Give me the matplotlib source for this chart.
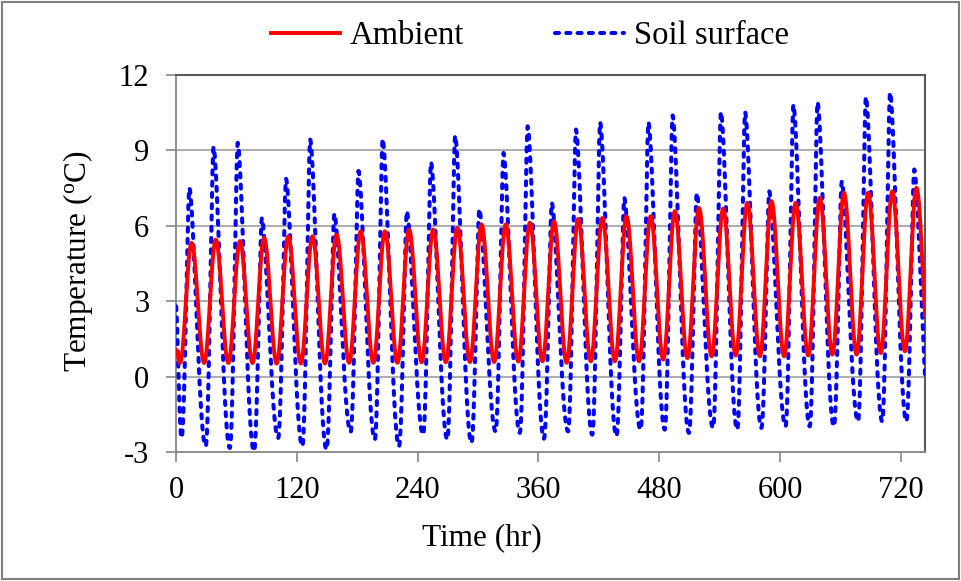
import numpy as np
import matplotlib
matplotlib.use("Agg")
import matplotlib.pyplot as plt
from matplotlib.lines import Line2D
from matplotlib.patches import Rectangle

# ---------------- data ----------------
n_days = 31
# Ambient: daily minimum (around hour 4) and maximum (around hour 15.5)
amb_trough_hr = 4.0
amb_peak_hr = 15.5
amb_start = 1.07
amb_trough = [0.54, 0.54, 0.54, 0.54, 0.52, 0.52, 0.52,
              0.55, 0.55, 0.55, 0.57, 0.57, 0.58, 0.58, 0.60,
              0.61, 0.55, 0.61, 0.61, 0.61, 0.68, 0.74, 0.81,
              0.84, 0.81, 0.81, 0.84, 0.88, 0.88, 0.94, 1.01, 1.00]
amb_peak = [5.32, 5.45, 5.39, 5.52, 5.58, 5.58, 5.65, 5.78, 5.78, 5.85,
            5.85, 5.92, 6.05, 6.05, 6.12, 6.18, 6.27, 6.31, 6.38, 6.38,
            6.58, 6.71, 6.68, 6.91, 6.98, 6.91, 7.11, 7.31, 7.31, 7.37, 7.51]

# Soil surface: daily minimum (around hour 5.5) and maximum (around hour 13.3)
soil_trough_hr = 5.5
soil_peak_hr = 13.3
soil_start = 2.8
soil_trough = [-2.44, -2.77, -2.84, -2.97, -2.44, -2.77, -2.90, -2.20,
               -2.50, -2.77, -2.31, -2.50, -2.64, -2.18, -2.24, -2.47,
               -2.18, -2.31, -2.37, -2.11, -2.11, -2.24, -2.04, -2.11,
               -2.04, -1.98, -1.98, -1.98, -1.78, -1.78, -1.78, -2.00]
soil_peak = [7.51, 9.14, 9.30, 6.31, 7.87, 9.43, 6.49, 8.17, 9.46, 6.58,
             8.53, 9.59, 6.67, 8.90, 9.96, 6.91, 9.83, 10.12, 7.11, 10.12,
             10.39, 7.31, 10.53, 10.52, 7.37, 10.82, 10.92, 7.77, 11.13,
             11.31, 8.24]

x_ticks = [0, 120, 240, 360, 480, 600, 720]
y_ticks = [-3, 0, 3, 6, 9, 12]


def key_points(start, trough_hr, peak_hr, troughs, peaks):
    t = [0.0]
    v = [start]
    for d in range(n_days):
        t += [trough_hr + 24 * d, peak_hr + 24 * d]
        v += [troughs[d], peaks[d]]
    t.append(trough_hr + 24 * n_days)
    v.append(troughs[n_days])
    return np.array(t), np.array(v)


def smooth_curve(t, v, spike=1.0, step=0.2):
    """Join consecutive extrema with smooth half-cosine arcs."""
    xs, ys = [], []
    for i in range(len(t) - 1):
        u = np.arange(0, 1, step / (t[i + 1] - t[i]))
        if v[i + 1] > v[i]:
            s = 1 - (1 - u) ** spike
        else:
            s = u ** spike
        f = 0.5 - 0.5 * np.cos(np.pi * s)
        xs.append(t[i] + u * (t[i + 1] - t[i]))
        ys.append(v[i] + f * (v[i + 1] - v[i]))
    xs.append([t[-1]])
    ys.append([v[-1]])
    return np.concatenate(xs), np.concatenate(ys)


at, av = key_points(amb_start, amb_trough_hr, amb_peak_hr, amb_trough, amb_peak)
st, sv = key_points(soil_start, soil_trough_hr, soil_peak_hr, soil_trough, soil_peak)
amb_x, amb_y = smooth_curve(at, av, spike=1.0)
soil_x, soil_y = smooth_curve(st, sv, spike=0.85)

# ---------------- figure ----------------
plt.rcParams['font.family'] = ['Liberation Serif', 'DejaVu Serif']
plt.rcParams['mathtext.fontset'] = 'custom'
plt.rcParams['mathtext.rm'] = 'Liberation Serif'

fig = plt.figure(figsize=(9.62, 5.81), dpi=100)
ax = fig.add_axes([176 / 962, 1 - 452 / 581, 749 / 962, 377 / 581])

grid_c = '#a6a6a6'
for yv in [0, 3, 6, 9]:
    ax.axhline(yv, color=grid_c, lw=1.3, zorder=1)

blue_lw = 2.9
blue_dash = (1.0, 1.8)
ax.plot(soil_x, soil_y, color='#0000ff', lw=blue_lw, dashes=blue_dash,
        dash_capstyle='round', zorder=3, label='Soil surface')
ax.plot(amb_x, amb_y, color='#ff0000', lw=2.8, zorder=4, label='Ambient')

ax.set_xlim(0, 744)
ax.set_ylim(-3, 12)
ax.set_xticks(x_ticks)
ax.set_yticks(y_ticks)
ax.set_yticklabels([str(v) for v in y_ticks])

for side in ['left', 'bottom']:
    ax.spines[side].set_color('#868686')
    ax.spines[side].set_linewidth(1.3)
for side in ['top', 'right']:
    ax.spines[side].set_color('#595959')
    ax.spines[side].set_linewidth(1.5)

ax.tick_params(axis='both', direction='out', length=7.2, width=1.2,
               color='#868686', labelsize=22)
ax.tick_params(axis='y', pad=12)
ax.tick_params(axis='x', pad=10)

ax.set_xlabel('Time (hr)', fontsize=22.5)
ax.xaxis.set_label_coords(0.409, -0.19)
ax.set_ylabel(r'Temperature ($\mathregular{^{o}}$C)', fontsize=22.5)
ax.yaxis.set_label_coords(-0.108, 0.505)

handles = [Line2D([], [], color='#ff0000', lw=2.8),
           Line2D([], [], color='#0000ff', lw=blue_lw, dashes=blue_dash,
                  dash_capstyle='round')]
fig.legend(handles, ['Ambient', 'Soil surface'], loc='center',
           bbox_to_anchor=(530 / 962, 1 - 36 / 581), ncol=2, frameon=False,
           fontsize=23.5, handlelength=2.1, handletextpad=0.3,
           columnspacing=2.8)

fig.patches.append(Rectangle((0.002, 0.004), 0.995, 0.992,
                             transform=fig.transFigure, fill=False,
                             edgecolor='#7f7f7f', lw=1.5))

fig.savefig('out.png', dpi=100)
